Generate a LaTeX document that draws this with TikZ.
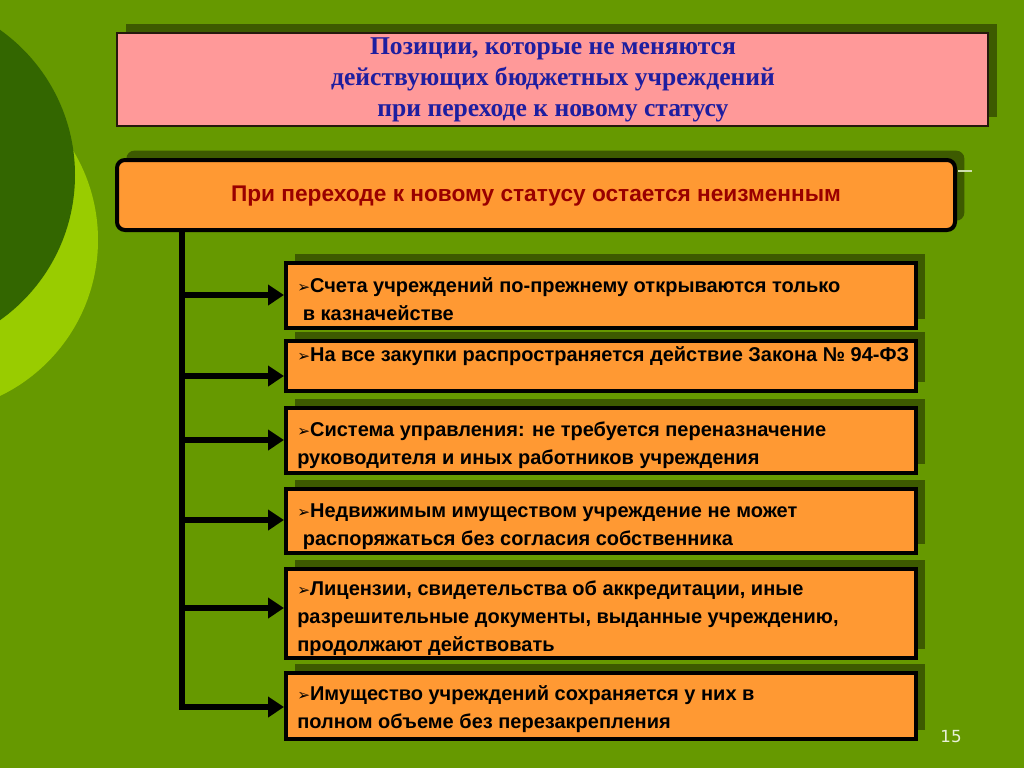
\documentclass[tikz,border=0pt]{standalone}
\usepackage{fontspec}
\setmainfont{Liberation Serif}
\setsansfont{Liberation Sans}
\newfontfamily\symfont{DejaVu Sans}
\usetikzlibrary{arrows.meta,shadows,fit,calc}
\definecolor{bggreen}{HTML}{669900}
\definecolor{darkcirc}{HTML}{336600}
\definecolor{lightcirc}{HTML}{99CC00}
\definecolor{shgreen}{HTML}{3D5A00}
\definecolor{pinkf}{HTML}{FF9999}
\definecolor{orangef}{HTML}{FF9933}
\definecolor{titleblue}{HTML}{1E1EA0}
\definecolor{darkred}{HTML}{990000}
\definecolor{pagenum}{HTML}{E8F0D8}
\newcommand{\bul}{{\symfont\fontsize{11.5}{11.5}\selectfont ➢}}
\tikzset{
  shadowbox/.style={drop shadow={shadow xshift=7pt, shadow yshift=7pt, fill=shgreen, opacity=1}},
  itembox/.style={draw=black, line width=3pt, fill=orangef, inner sep=0pt, shadowbox},
  itemtext/.style={anchor=base west, inner sep=0pt, text=black,
    font=\sffamily\bfseries\fontsize{15}{18}\selectfont},
  arr/.style={line width=4.3pt, line join=miter, -{Triangle[length=12pt,width=15pt]}}
}
\begin{document}
\begin{tikzpicture}[x=0.75pt,y=-0.75pt]
\useasboundingbox (0,0) rectangle (1024,768);
\fill[bggreen] (0,0) rectangle (1024,768);
\begin{scope}
  \clip (0,0) rectangle (1024,768);
  \fill[lightcirc] (-75,240) circle (173);
  \fill[darkcirc] (-103,175) circle (178);
\end{scope}

% title
\node[fit={(117,33) (988,126)}, inner sep=0pt, fill=pinkf, draw=black!80!brown, line width=1pt,
      shadowbox] (title) {};
\node[align=center, text=titleblue, inner sep=0pt,
      font=\rmfamily\bfseries\fontsize{19.2}{23}\selectfont] (titletext) at (553,80)
  {Позиции, которые не меняются\\действующих бюджетных учреждений\\при переходе к новому статусу};

% main box
\node[fit={(117,160) (955,230)}, inner sep=0pt, fill=orangef, draw=black, line width=3pt,
      rounded corners=6pt, shadowbox] (main) {};
\node[text=darkred, inner sep=0pt, font=\sffamily\bfseries\fontsize{17}{20}\selectfont]
  (maintext) at (536,196) {При переходе к новому статусу остается неизменным};
\draw[pagenum!80!bggreen, line width=0.8pt] (958,171) -- (972,171);

% item boxes
\node[itembox, fit={(286,263) (916,328)}] (b1) {};
\node[itembox, fit={(286,341) (916,391)}] (b2) {};
\node[itembox, fit={(286,408) (916,473)}] (b3) {};
\node[itembox, fit={(286,489) (916,553)}] (b4) {};
\node[itembox, fit={(286,569) (916,658)}] (b5) {};
\node[itembox, fit={(286,673) (916,739)}] (b6) {};

% item texts
\node[itemtext] (t1a) at (297,292) {\bul Счета учреждений по-прежнему открываются только};
\node[itemtext] (t1b) at (297,320) {\ в казначействе};
\node[itemtext] (t2a) at (297,361) {\bul На все закупки распространяется действие Закона № 94-ФЗ};
\node[itemtext] (t3a) at (297,436) {\bul Система управления: не требуется переназначение};
\node[itemtext] (t3b) at (297,464) {руководителя и иных работников учреждения};
\node[itemtext] (t4a) at (297,517) {\bul Недвижимым имуществом учреждение не может};
\node[itemtext] (t4b) at (297,545) {\ распоряжаться без согласия собственника};
\node[itemtext] (t5a) at (297,595) {\bul Лицензии, свидетельства об аккредитации, иные};
\node[itemtext] (t5b) at (297,623) {разрешительные документы, выданные учреждению,};
\node[itemtext] (t5c) at (297,651) {продолжают действовать};
\node[itemtext] (t6a) at (297,700) {\bul Имущество учреждений сохраняется у них в};
\node[itemtext] (t6b) at (297,728) {полном объеме без перезакрепления};

% connectors
\coordinate (a1) at (182,295);
\coordinate (a2) at (182,376);
\coordinate (a3) at (182,440);
\coordinate (a4) at (182,520);
\coordinate (a5) at (182,608);
\coordinate (a6) at (182,707);
\draw[arr] (main.south -| a1) |- (b6.west |- a6);
\draw[arr] (a1) -- (a1 -| b1.west);
\draw[arr] (a2) -- (a2 -| b2.west);
\draw[arr] (a3) -- (a3 -| b3.west);
\draw[arr] (a4) -- (a4 -| b4.west);
\draw[arr] (a5) -- (a5 -| b5.west);

% page number
\node[text=pagenum, font=\symfont\fontsize{12.5}{14}\selectfont, inner sep=0pt] (pg) at (951,737) {15};
\end{tikzpicture}
\end{document}
